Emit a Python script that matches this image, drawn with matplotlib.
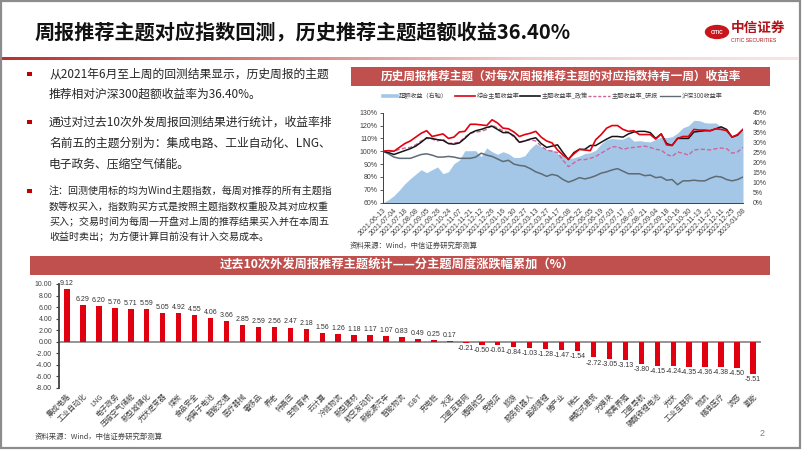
import matplotlib
matplotlib.use('Agg')
import matplotlib.pyplot as plt
import numpy as np
from matplotlib.patches import Rectangle, Circle
from matplotlib.lines import Line2D
from matplotlib.colors import LinearSegmentedColormap

plt.rcParams['font.family'] = ['Noto Sans CJK SC', 'DejaVu Sans']
plt.rcParams['axes.unicode_minus'] = False

# ---------------- data: line chart ----------------
dates = ['2021-06-13', '2021-06-27', '2021-07-04', '2021-07-11', '2021-07-18', '2021-07-25',
         '2021-08-08', '2021-08-22', '2021-09-05', '2021-09-12', '2021-09-26', '2021-10-10',
         '2021-10-24', '2021-10-31', '2021-11-07', '2021-11-14', '2021-11-21', '2021-11-28',
         '2021-12-12', '2021-12-19', '2021-12-26', '2022-01-09', '2022-01-16', '2022-01-23',
         '2022-01-30', '2022-02-13', '2022-02-27', '2022-03-06', '2022-03-13', '2022-03-20',
         '2022-03-27', '2022-04-10', '2022-04-17', '2022-04-24', '2022-05-08', '2022-05-15',
         '2022-05-22', '2022-05-29', '2022-06-05', '2022-06-12', '2022-06-19', '2022-06-26',
         '2022-07-03', '2022-07-10', '2022-07-17', '2022-07-31', '2022-08-07', '2022-08-14',
         '2022-08-21', '2022-08-28', '2022-09-04', '2022-09-11', '2022-09-18', '2022-10-09',
         '2022-10-16', '2022-10-23', '2022-10-30', '2022-11-06', '2022-11-13', '2022-11-20',
         '2022-11-27', '2022-12-04', '2022-12-11', '2022-12-18', '2022-12-25', '2023-01-01',
         '2023-01-08']

excess = [0, 1.5, 3.5, 6.3, 9.5, 12, 14.3, 16.5, 15, 16.5, 17.9, 14.5, 15.5, 19.5, 21.3, 26,
          26, 26, 23, 27.4, 25.5, 24.2, 25.5, 24.5, 22.6, 22.6, 23.5, 27, 29.5, 28, 26.6, 26.5,
          24.5, 23.5, 22, 22.5, 23.3, 24.6, 25, 26.2, 29.5, 31.6, 32.1, 31.8, 31.8, 33.2, 30.8,
          31, 30.6, 30.4, 31.6, 32.9, 32.5, 33, 34.8, 37.5, 38.5, 41.2, 41, 40, 39.8, 39.9, 38,
          35.9, 33.5, 34.6, 35.9]

composite = [100, 100.5, 100, 103, 106, 108, 111, 114, 116, 111.5, 112.5, 113.5, 110, 111, 115,
             115.5, 121, 121, 120.5, 120, 124.5, 122, 118, 117.5, 115, 111.5, 113, 114, 115.5,
             111, 108, 106.5, 101, 97, 94, 98, 101.5, 101, 100.5, 109, 113, 118, 120, 120, 117,
             115.5, 116, 113, 113, 113, 109.5, 113.5, 105, 104.5, 110, 111.5, 111.5, 117, 116.5,
             116.5, 116, 117.5, 117, 116, 111, 113, 117]

policy = [100, 99, 97.5, 99, 100.5, 102, 104, 107, 110.5, 110, 109, 108.5, 106, 105.5, 106.5,
          110, 114, 116, 117, 118.5, 119.5, 117, 114.5, 114.5, 112, 107, 108, 109.5, 110.5, 106,
          103, 104, 105, 99, 93.5, 99, 101.5, 101.5, 104.5, 104.5, 107, 109.5, 111.5, 111.5, 111,
          113.5, 115, 115.5, 115.5, 114.5, 110, 113.5, 106, 104.5, 110, 110, 110, 115, 115.5,
          116, 116, 117.5, 119, 117, 111, 112.5, 117]

research = [100, 100, 100, 101.5, 102.5, 103, 105, 108, 110, 109.5, 108, 109.5, 106, 106.5, 107,
            111, 114, 115, 115.5, 117, 120.5, 118, 116, 115, 111, 107, 108, 109, 108, 104, 101,
            100, 99, 93, 88, 91, 93.5, 93.5, 94.5, 96, 98.5, 101, 103.5, 103.5, 101.5, 102.5, 103,
            103.5, 104, 103, 101.5, 101, 97.5, 96, 99.5, 98.5, 97, 101, 101.5, 101.5, 101, 102,
            102.5, 102, 98.5, 99.5, 103]

hs300 = [100, 98, 95.5, 94.5, 94.5, 94.5, 96, 97.5, 98, 97, 95.5, 95.5, 96, 95.5, 94.5, 94.5,
         94.5, 95.5, 98.5, 97, 96, 94, 92, 93, 90, 89, 88.5, 86.5, 84, 82.5, 80.5, 82, 81, 78, 76,
         77.5, 79.5, 78.5, 79.5, 81, 83, 84, 85.5, 86.5, 84.5, 82.5, 82.5, 82.5, 81, 81.5, 79.5,
         80, 77.5, 78, 74, 77, 77, 77.5, 77, 77, 79, 80.5, 80, 78, 77, 78, 80]

left_ticks = [60, 70, 80, 90, 100, 110, 120, 130]
right_ticks = [0, 5, 10, 15, 20, 25, 30, 35, 40, 45]

# ---------------- data: bar chart ----------------
themes = ['集成电路', '工业自动化', 'LNG', '电子政务', '压缩空气储能', '新型城镇化', '光伏逆变器',
          '煤炭', '食品安全', '钠离子电池', '智能交通', '医疗器械', '奢侈品', '养老', '特高压',
          '生物育种', '云计算', '冷链物流', '新型建材', '航空发动机', '新能源汽车', '智能物流',
          'IGBT', '充电桩', '水泥', '卫星互联网', '通用航空', '免税店', '旅游', '服务机器人',
          '盐湖提锂', '猪产业', '稀土', '装配式建筑', '光模块', '家禽养殖', '卫星导航',
          '磷酸铁锂电池', '光伏', '工业互联网', '物流', '精准医疗', '流感', '氢能']
theme_vals = [9.12, 6.29, 6.20, 5.76, 5.71, 5.59, 5.05, 4.92, 4.55, 4.06, 3.66, 2.85, 2.59,
              2.56, 2.47, 2.18, 1.56, 1.26, 1.18, 1.17, 1.07, 0.83, 0.49, 0.25, 0.17, -0.21,
              -0.50, -0.61, -0.84, -1.03, -1.28, -1.47, -1.54, -2.72, -3.05, -3.13, -3.80,
              -4.15, -4.24, -4.35, -4.36, -4.38, -4.50, -5.51]
bar_ticks = [-8, -6, -4, -2, 0, 2, 4, 6, 8, 10]

# ---------------- figure ----------------
W, H = 802, 451
fig = plt.figure(figsize=(W / 100, H / 100), dpi=100)
fig.patch.set_facecolor('white')


def fx(x):
    return x / W


def fy(y):
    return 1 - y / H


def T(x, y, s, **kw):
    kw.setdefault('va', 'center')
    fig.text(fx(x), fy(y), s, **kw)


def R(x0, y0, x1, y1, **kw):
    fig.patches.append(Rectangle((fx(x0), fy(y1)), fx(x1) - fx(x0), fy(y0) - fy(y1),
                                 transform=fig.transFigure, **kw))


BANNER = '#C0504D'
TXT = '#262626'

# slide frame
R(1, 1, 800, 448, fill=False, ec='#8c8c8c', lw=1.6)

# header gradient line
gax = fig.add_axes([fx(2), fy(60), fx(798) - fx(2), 3 / H])
grad = np.linspace(0, 1, 256)[None, :]
cmap = LinearSegmentedColormap.from_list('g', ['#B8312F', '#D9807E', '#F0D0CF', '#F7E6E5'])
gax.imshow(grad, aspect='auto', cmap=cmap)
gax.set_axis_off()

# title
T(35, 33, '周报推荐主题对应指数回测，历史推荐主题超额收益36.40%', fontsize=14.5,
  fontweight='bold', color='#111111', ha='left')

# logo
fig.patches.append(Circle((fx(717), fy(32)), 11.5 / W, transform=fig.transFigure,
                          color='#C8161D'))
T(717, 32, 'CITIC', fontsize=3.4, color='white', ha='center', fontweight='bold',
  family=['Liberation Sans'])
T(731, 28, '中信证券', fontsize=9.8, fontweight='bold', color='#B0131A', ha='left')
T(731, 41, 'CITIC SECURITIES', fontsize=3.7, color='#B0131A', ha='left',
  family=['Liberation Sans'])

# left bullets / text
for yb in (74, 122, 191):
    R(27, yb - 2.3, 31.6, yb + 2.3, color='#C00000', lw=0)
main_lines = [('从2021年6月至上周的回测结果显示，历史周报的主题', 74),
              ('推荐相对沪深300超额收益率为36.40%。', 94),
              ('通过对过去10次外发周报回测结果进行统计，收益率排', 122),
              ('名前五的主题分别为：集成电路、工业自动化、LNG、', 143),
              ('电子政务、压缩空气储能。', 164)]
for s, y in main_lines:
    T(49, y, s, fontsize=8.5, color=TXT, ha='left')
note_lines = [('注：回测使用标的均为Wind主题指数，每周对推荐的所有主题指', 191),
              ('数等权买入，指数购买方式是按照主题指数权重股及其对应权重', 206.5),
              ('买入；交易时间为每周一开盘对上周的推荐结果买入并在本周五', 222),
              ('收益时卖出；为方便计算目前没有计入交易成本。', 237.5)]
for s, y in note_lines:
    T(49, y, s, fontsize=7.2, color=TXT, ha='left', style='italic')

# ---------------- line chart ----------------
R(351, 67, 770, 86, color=BANNER, lw=0)
T(561, 76.5, '历史周报推荐主题（对每次周报推荐主题的对应指数持有一周）收益率',
  fontsize=8.4, color='white', fontweight='bold', ha='center')

C_BLUE = '#A4C7E7'
C_RED = '#E3000F'
C_BLACK = '#151515'
C_PINK = '#D0649A'
C_GRAY = '#5E6B75'

# legend
leg_y = 96
items = [(383, 397, '超额收益（右轴）', dict(color=C_BLUE, lw=2.6)),
         (455, 475, '综合主题收益率', dict(color=C_RED, lw=1.2)),
         (520, 540, '主题收益率_政策', dict(color=C_BLACK, lw=1.2)),
         (588, 610, '主题收益率_研报', dict(color=C_PINK, lw=1.0, ls=(0, (2.2, 1.3)))),
         (660, 680, '沪深300收益率', dict(color=C_GRAY, lw=1.0))]
for x0, x1, lab, st in items:
    fig.add_artist(Line2D([fx(x0), fx(x1)], [fy(leg_y), fy(leg_y)],
                          transform=fig.transFigure, **st))
    T(x1 + 2, leg_y, lab, fontsize=4.4, color='#404040', ha='left')

x = np.arange(len(dates))
ax1 = fig.add_axes([fx(383), fy(202.7), (743 - 383) / W, 90 / H])
ax2 = ax1.twinx()
ax1.set_zorder(ax2.get_zorder() + 1)
ax1.patch.set_visible(False)

ax2.fill_between(x, 0, excess, color=C_BLUE, lw=0)
ax2.set_ylim(0, 45)
ax2.set_yticks(right_ticks)
ax2.set_yticklabels([f'{v}%' for v in right_ticks], fontsize=5, color='#404040',
                    family=['Liberation Sans'])
ax2.tick_params(axis='y', length=0, pad=7)
for sp in ax2.spines.values():
    sp.set_visible(False)

ax1.plot(x, hs300, color=C_GRAY, lw=1.1)
ax1.plot(x, research, color=C_PINK, lw=1.0, ls=(0, (3, 1.6)))
ax1.plot(x, policy, color=C_BLACK, lw=1.1)
ax1.plot(x, composite, color=C_RED, lw=1.2)
ax1.set_ylim(60, 130)
ax1.set_xlim(0, len(dates) - 1)
ax1.set_yticks(left_ticks)
ax1.set_yticklabels([f'{v}%' for v in left_ticks], fontsize=5, color='#404040',
                    family=['Liberation Sans'])
ax1.tick_params(axis='y', length=2, width=0.6, pad=2, color='#404040')
ax1.set_xticks(x[::2])
ax1.set_xticklabels(dates[::2], rotation=45, ha='right', rotation_mode='anchor',
                    fontsize=5, color='#404040', family=['Liberation Sans'])
ax1.tick_params(axis='x', length=0, pad=3)
for k in ('top', 'right'):
    ax1.spines[k].set_visible(False)
for k in ('left', 'bottom'):
    ax1.spines[k].set_color('#404040')
    ax1.spines[k].set_linewidth(0.7)

T(350, 246, '资料来源：Wind，中信证券研究部测算', fontsize=5.3, color='#404040', ha='left')

# ---------------- bar chart ----------------
R(30, 256, 770, 275, color=BANNER, lw=0)
T(397, 265.5, '过去10次外发周报推荐主题统计——分主题周度涨跌幅累加（%）', fontsize=8.8,
  color='white', fontweight='bold', ha='center')

ax3 = fig.add_axes([fx(59), fy(388), 702 / W, 104 / H])
xb = np.arange(len(themes))
ax3.bar(xb, theme_vals, width=0.34, color='#E0000F', zorder=2)
ax3.axhline(0, color='#8c8c8c', lw=1.3, zorder=1)
ax3.set_xlim(-0.5, len(themes) - 0.5)
ax3.set_ylim(-8, 10)
ax3.set_yticks(bar_ticks)
ax3.set_yticklabels([f'{v:.2f}' for v in bar_ticks], fontsize=5, color='#404040',
                    family=['Liberation Sans'])
ax3.tick_params(axis='y', length=2, width=0.8, pad=3, color='#404040')
ax3.set_xticks(xb)
ax3.set_xticklabels(themes, rotation=45, ha='right', rotation_mode='anchor', fontsize=5.3,
                    color='#404040')
ax3.tick_params(axis='x', length=0, pad=3)
for k in ('top', 'right', 'bottom'):
    ax3.spines[k].set_visible(False)
ax3.spines['left'].set_color('#404040')
ax3.spines['left'].set_linewidth(1.3)
for xi, v in zip(xb, theme_vals):
    if v >= 0:
        ax3.text(xi, v + 0.35, f'{v:.2f}', ha='center', va='bottom', fontsize=5,
                 color='#333333', family=['Liberation Sans'])
    else:
        ax3.text(xi, v - 0.35, f'{v:.2f}', ha='center', va='top', fontsize=5,
                 color='#333333', family=['Liberation Sans'])

T(35, 437, '资料来源：Wind，中信证券研究部测算', fontsize=5.3, color='#404040', ha='left')
T(762, 433, '2', fontsize=6.5, color='#7f7f7f', ha='center', family=['Liberation Sans'])

fig.savefig('out.png', dpi=100)
